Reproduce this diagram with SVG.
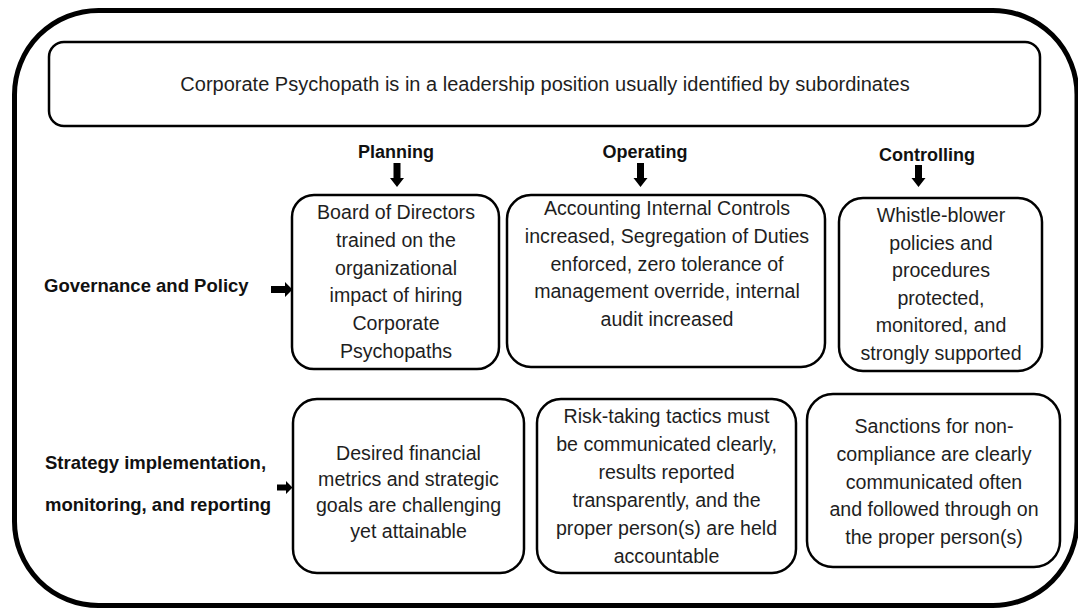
<svg xmlns="http://www.w3.org/2000/svg" width="1078" height="608" viewBox="0 0 1078 608">
  <style>
    .frame { fill: #ffffff; stroke: #000000; stroke-width: 5; }
    .box { fill: #ffffff; stroke: #000000; stroke-width: 2.5; }
    .txt { font-family: "Liberation Sans", Arial, sans-serif; font-size: 19.6px; fill: #1e1e1e; text-anchor: middle; }
    .title { font-family: "Liberation Sans", Arial, sans-serif; font-size: 20px; fill: #1e1e1e; text-anchor: middle; }
    .head { font-family: "Liberation Sans", Arial, sans-serif; font-size: 18px; font-weight: bold; fill: #111111; text-anchor: middle; }
    .row { font-family: "Liberation Sans", Arial, sans-serif; font-size: 18.5px; font-weight: bold; fill: #111111; }
    .arrow { fill: #000000; stroke: none; }
  </style>

  <!-- outer frame -->
  <rect class="frame" x="14.5" y="10.5" width="1062.5" height="595" rx="84" ry="84"/>

  <!-- title banner -->
  <g id="title">
    <rect class="box" x="49" y="42" width="991" height="84" rx="15"/>
    <text class="title" x="545" y="91">Corporate Psychopath is in a leadership position usually identified by subordinates</text>
  </g>

  <!-- column headers -->
  <g id="col-planning"><text class="head" x="396" y="158">Planning</text></g>
  <g id="col-operating"><text class="head" x="645" y="158">Operating</text></g>
  <g id="col-controlling"><text class="head" x="927" y="161">Controlling</text></g>

  <!-- row headers -->
  <g id="row-governance"><text class="row" x="44" y="292">Governance and Policy</text></g>
  <g id="row-strategy">
    <text class="row" x="45" y="469">Strategy implementation,</text>
    <text class="row" x="45" y="511">monitoring, and reporting</text>
  </g>

  <!-- cells -->
  <g id="gov-planning">
    <rect class="box" x="292" y="195" width="207" height="174" rx="22"/>
    <text class="txt" x="396" y="219">Board of Directors</text>
    <text class="txt" x="396" y="247">trained on the</text>
    <text class="txt" x="396" y="274.5">organizational</text>
    <text class="txt" x="396" y="302">impact of hiring</text>
    <text class="txt" x="396" y="330">Corporate</text>
    <text class="txt" x="396" y="358">Psychopaths</text>
  </g>

  <g id="gov-operating">
    <rect class="box" x="507" y="195" width="318" height="172" rx="24"/>
    <text class="txt" x="667" y="215">Accounting Internal Controls</text>
    <text class="txt" x="667" y="243">increased, Segregation of Duties</text>
    <text class="txt" x="667" y="270.5">enforced, zero tolerance of</text>
    <text class="txt" x="667" y="298">management override, internal</text>
    <text class="txt" x="667" y="325.5">audit increased</text>
  </g>

  <g id="gov-controlling">
    <rect class="box" x="839" y="198" width="203" height="173" rx="24"/>
    <text class="txt" x="941" y="222">Whistle-blower</text>
    <text class="txt" x="941" y="249.5">policies and</text>
    <text class="txt" x="941" y="277">procedures</text>
    <text class="txt" x="941" y="304.5">protected,</text>
    <text class="txt" x="941" y="332">monitored, and</text>
    <text class="txt" x="941" y="359.5">strongly supported</text>
  </g>

  <g id="strat-planning">
    <rect class="box" x="293" y="399" width="231" height="174" rx="24"/>
    <text class="txt" x="408.5" y="460">Desired financial</text>
    <text class="txt" x="408.5" y="486">metrics and strategic</text>
    <text class="txt" x="408.5" y="512">goals are challenging</text>
    <text class="txt" x="408.5" y="538">yet attainable</text>
  </g>

  <g id="strat-operating">
    <rect class="box" x="537" y="399" width="259" height="174" rx="24"/>
    <text class="txt" x="666.5" y="423">Risk-taking tactics must</text>
    <text class="txt" x="666.5" y="451">be communicated clearly,</text>
    <text class="txt" x="666.5" y="479">results reported</text>
    <text class="txt" x="666.5" y="507">transparently, and the</text>
    <text class="txt" x="666.5" y="535">proper person(s) are held</text>
    <text class="txt" x="666.5" y="563">accountable</text>
  </g>

  <g id="strat-controlling">
    <rect class="box" x="807" y="394" width="253" height="173" rx="26"/>
    <text class="txt" x="934" y="433">Sanctions for non-</text>
    <text class="txt" x="934" y="461">compliance are clearly</text>
    <text class="txt" x="934" y="488.5">communicated often</text>
    <text class="txt" x="934" y="516">and followed through on</text>
    <text class="txt" x="934" y="543.5">the proper person(s)</text>
  </g>

  <!-- block arrows -->
  <g id="connectors">
    <path class="arrow" d="M393.5,163 H400.5 V178 H404 L397,187 L390,178 H393.5 Z"/>
    <path class="arrow" d="M637,163 H644 V178 H647.5 L640.5,187 L633.5,178 H637 Z"/>
    <path class="arrow" d="M915,165 H922 V178 H925.5 L918.5,187 L911.5,178 H915 Z"/>
    <path class="arrow" d="M271,286 H285 V282 L292.5,289.5 L285,297 V293 H271 Z"/>
    <path class="arrow" d="M277,484.5 H286 V481 L292.5,487.5 L286,494 V490.5 H277 Z"/>
  </g>
</svg>
